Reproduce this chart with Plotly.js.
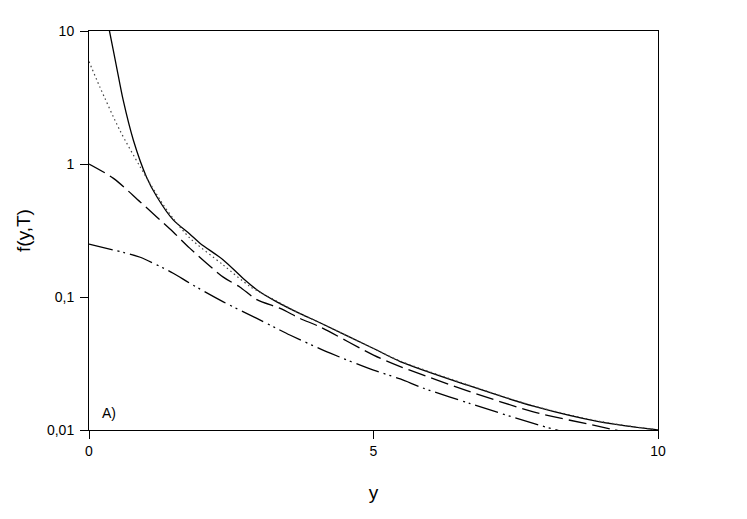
<!DOCTYPE html>
<html>
<head>
<meta charset="utf-8">
<script src="https://cdn.plot.ly/plotly-3.0.1.min.js"></script>
<style>
  html, body { margin: 0; padding: 0; background: #fff; }
  #plotDiv { width: 747px; height: 519px; }
</style>
</head>
<body>
<div id="plotDiv"></div>
<script>
// curves, f(y,T) on a log axis
let ySolid = [0.33, 0.36, 0.48, 0.60, 0.78, 1.01, 1.19, 1.48, 1.77, 1.95, 2.36, 2.71, 2.98, 3.3, 3.71, 4.06, 5, 5.47, 6.64, 7.81, 8.98, 10];
let fSolid = [11.5, 10, 5.5, 3.03, 1.51, 0.80, 0.57, 0.38, 0.298, 0.254, 0.19, 0.138, 0.111, 0.092, 0.075, 0.064, 0.041, 0.0327, 0.0218, 0.0151, 0.0115, 0.01];

let yDot = [0, 0.19, 0.54, 0.9, 1.31, 1.48, 1.77, 2.36, 2.83, 3.3, 3.71, 4.06, 5, 5.47, 6.64, 7.81, 8.98, 10];
let fDot = [5.9, 3.8, 1.8, 0.95, 0.49, 0.39, 0.278, 0.174, 0.12, 0.093, 0.075, 0.064, 0.041, 0.033, 0.022, 0.0152, 0.0116, 0.01];

let yDash = [0, 0.43, 0.9, 1.48, 1.77, 2.36, 2.65, 2.95, 3.36, 3.71, 4.06, 5, 5.47, 6.64, 7.81, 8.98, 10];
let fDash = [1.0, 0.78, 0.518, 0.308, 0.233, 0.141, 0.119, 0.0955, 0.082, 0.0690, 0.0596, 0.0366, 0.030, 0.0198, 0.0137, 0.0106, 0.0085];

let yDashDot = [0, 0.72, 0.9, 1.48, 1.77, 2.36, 2.95, 3.3, 3.53, 4.24, 5, 5.47, 5.88, 6.7, 7.81, 9];
let fDashDot = [0.25, 0.21, 0.199, 0.151, 0.127, 0.092, 0.069, 0.058, 0.0518, 0.0378, 0.0282, 0.0242, 0.0206, 0.0158, 0.0112, 0.0081];

let yTickVals = [0.01, 0.1, 1, 10];
let yTickText = ['0,01', '0,1', '1', '10'];
let xTickVals = [0, 5, 10];

let font = 'Liberation Sans, Arial, sans-serif';

let traces = [
  { x: ySolid, y: fSolid, mode: 'lines', line: { color: '#000', width: 1.3, shape: 'spline', smoothing: 0.8 } },
  { x: yDot, y: fDot, mode: 'lines', line: { color: '#444', width: 1.2, dash: '1.5px,3px', shape: 'spline', smoothing: 0.8 } },
  { x: yDash, y: fDash, mode: 'lines', line: { color: '#000', width: 1.3, dash: '18px,6px', shape: 'spline', smoothing: 0.8 } },
  { x: yDashDot, y: fDashDot, mode: 'lines', line: { color: '#000', width: 1.3, dash: '24px,5px,2px,4px,2px,5px', shape: 'spline', smoothing: 0.8 } },
];

let layout = {
  width: 747,
  height: 519,
  margin: { l: 89, r: 89, t: 31, b: 89 },
  showlegend: false,
  paper_bgcolor: '#fff',
  plot_bgcolor: '#fff',
  font: { family: font, size: 14, color: '#000' },
  xaxis: {
    range: [0, 10],
    tickvals: xTickVals,
    ticks: 'outside',
    ticklen: 8,
    tickcolor: '#000',
    showline: true,
    mirror: true,
    linecolor: '#000',
    linewidth: 1,
    showgrid: false,
    zeroline: false,
    title: { text: 'y', font: { size: 19 }, standoff: 27 },
  },
  yaxis: {
    type: 'log',
    range: [-2, 1],
    tickvals: yTickVals,
    ticktext: yTickText,
    ticks: 'outside',
    ticklen: 8,
    ticklabelstandoff: 3,
    tickcolor: '#000',
    showline: true,
    mirror: true,
    linecolor: '#000',
    linewidth: 1,
    showgrid: false,
    zeroline: false,
    title: { text: 'f(y,T)', font: { size: 19 }, standoff: 11 },
  },
  annotations: [
    {
      text: 'A)',
      x: 0.2,
      y: Math.log10(0.0135),
      xref: 'x',
      yref: 'y',
      xanchor: 'left',
      showarrow: false,
      font: { size: 14 },
    },
  ],
};

Plotly.newPlot('plotDiv', traces, layout, { displayModeBar: false, staticPlot: true });
</script>
</body>
</html>
